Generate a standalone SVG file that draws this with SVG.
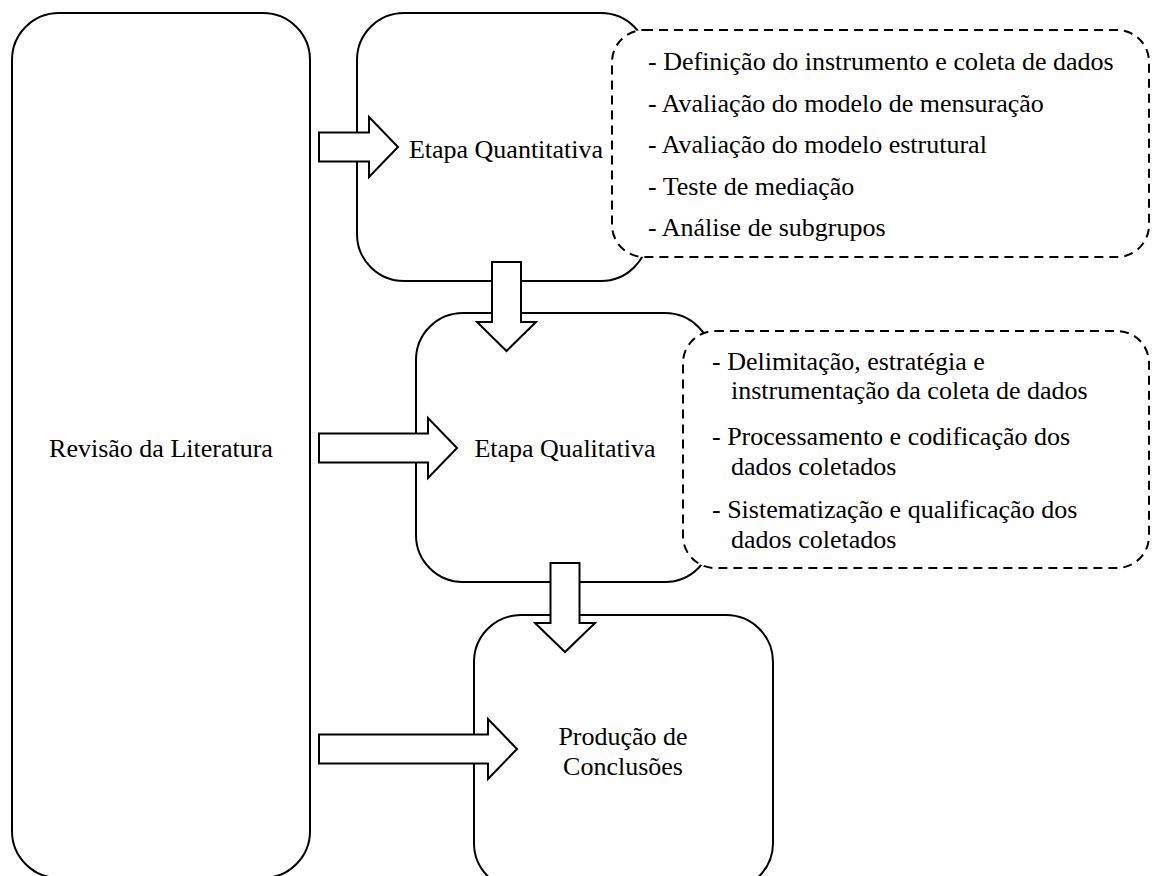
<svg xmlns="http://www.w3.org/2000/svg" width="1153" height="876" viewBox="0 0 1153 876">
  <style>
    .box { fill: #ffffff; stroke: #000000; stroke-width: 2; }
    .note { fill: #ffffff; stroke: #000000; stroke-width: 2; stroke-dasharray: 9 6; }
    .arrow { fill: #ffffff; stroke: #000000; stroke-width: 2; stroke-linejoin: miter; }
    .label { font-family: "Liberation Serif", "Times New Roman", Times, Tinos, "Nimbus Roman", "Nimbus Roman No9 L", "Noto Serif", "DejaVu Serif", FreeSerif, Georgia, serif; font-size: 26px; fill: #000000; }
    .mid { text-anchor: middle; }
  </style>
  <rect width="1153" height="876" fill="#ffffff"/>

  <!-- Stage boxes -->
  <g id="revisao">
    <rect class="box" x="12" y="13" width="298" height="865" rx="47" ry="47"/>
    <text class="label mid" x="161" y="457">Revisão da Literatura</text>
  </g>
  <g id="quantitativa">
    <rect class="box" x="357" y="13" width="291" height="268" rx="47" ry="47"/>
    <text class="label mid" x="506" y="158">Etapa Quantitativa</text>
  </g>
  <g id="qualitativa">
    <rect class="box" x="416" y="313" width="296" height="269" rx="47" ry="47"/>
    <text class="label mid" x="565" y="457">Etapa Qualitativa</text>
  </g>
  <g id="conclusoes">
    <rect class="box" x="474" y="615" width="299" height="275" rx="47" ry="47"/>
    <text class="label mid" x="623" y="745">Produção de</text>
    <text class="label mid" x="623" y="775">Conclusões</text>
  </g>

  <!-- Step lists -->
  <g id="passos-quantitativa" class="label">
    <rect class="note" x="612" y="30" width="537" height="227" rx="32" ry="32"/>
    <text x="648" y="70">- Definição do instrumento e coleta de dados</text>
    <text x="648" y="112">- Avaliação do modelo de mensuração</text>
    <text x="648" y="153">- Avaliação do modelo estrutural</text>
    <text x="648" y="195">- Teste de mediação</text>
    <text x="648" y="236">- Análise de subgrupos</text>
  </g>
  <g id="passos-qualitativa" class="label">
    <rect class="note" x="683" y="331" width="466" height="237" rx="32" ry="32"/>
    <text x="712" y="370">- Delimitação, estratégia e</text>
    <text x="731" y="399">instrumentação da coleta de dados</text>
    <text x="712" y="445">- Processamento e codificação dos</text>
    <text x="731" y="475">dados coletados</text>
    <text x="712" y="518">- Sistematização e qualificação dos</text>
    <text x="731" y="548">dados coletados</text>
  </g>

  <!-- Block arrows -->
  <g id="connectors">
    <polygon class="arrow" points="319,132.5 369,132.5 369,117 398,147 369,177 369,161.5 319,161.5"/>
    <polygon class="arrow" points="319,433.5 428,433.5 428,418 457,448 428,478 428,462.5 319,462.5"/>
    <polygon class="arrow" points="319,734.5 488,734.5 488,719 517,749 488,779 488,763.5 319,763.5"/>
    <polygon class="arrow" points="492,262 521,262 521,322 536,322 506.5,351 477,322 492,322"/>
    <polygon class="arrow" points="550.5,563 579.5,563 579.5,623 595,623 565,652 535,623 550.5,623"/>
  </g>
</svg>
